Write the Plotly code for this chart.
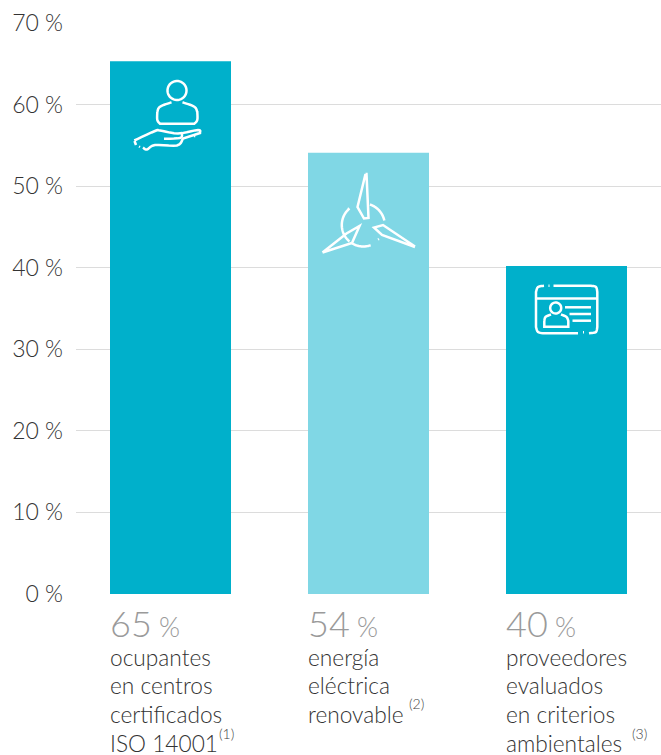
import numpy as np
import plotly.graph_objects as go

categories = ["ocupantes<br>en centros<br>certificados<br>ISO 14001",
              "energía<br>eléctrica<br>renovable",
              "proveedores<br>evaluados<br>en criterios<br>ambientales"]
values = [65.3, 54.1, 40.2]
big_labels = ["65", "54", "40"]
footnotes = ["(1)", "(2)", "(3)"]
colors = ["#00b0cb", "#80d7e5", "#00b0cb"]
tick_values = [0, 10, 20, 30, 40, 50, 60, 70]
tick_labels = ["0 %", "10 %", "20 %", "30 %", "40 %", "50 %", "60 %", "70 %"]

W, H = 661, 755
L, T, B = 76, 23, 161
FONT = "Lato"
BAR_W = 121 / 198
ICON_W = 2.5


def px(x, y):
    return (x - L) / (W - L), (H - B - y) / (H - B - T)


def line_path(points, close=False):
    s = ""
    for i, (x, y) in enumerate(points):
        a, b = px(x, y)
        s += ("M" if i == 0 else "L") + f"{a:.5f},{b:.5f} "
    return s + ("Z" if close else "")


def smooth(points, n=8):
    pts = np.array(points, dtype=float)
    out = []
    for i in range(len(pts) - 1):
        p0 = pts[max(i - 1, 0)]
        p1 = pts[i]
        p2 = pts[i + 1]
        p3 = pts[min(i + 2, len(pts) - 1)]
        for t in np.linspace(0, 1, n, endpoint=False):
            out.append(0.5 * ((2 * p1) + (p2 - p0) * t + (2 * p0 - 5 * p1 + 4 * p2 - p3) * t ** 2
                              + (3 * p1 - p0 - 3 * p2 + p3) * t ** 3))
    out.append(pts[-1])
    return [tuple(p) for p in out]


def arc(cx, cy, r, a0, a1, n=40):
    return [(cx + r * np.cos(np.radians(a)), cy - r * np.sin(np.radians(a)))
            for a in np.linspace(a0, a1, n)]


icon_paths = [
    # person on a hand
    line_path(arc(177, 90.5, 9.5, 0, 360)),
    line_path(smooth([(171.5, 102.3), (160, 106.7), (157.3, 112)])
              + smooth([(157.3, 112), (157.3, 120), (160, 123.7)], 4)
              + [(194.3, 123.7)]
              + smooth([(194.3, 123.7), (197.3, 120), (197.3, 112)], 4)
              + smooth([(197.3, 112), (194.3, 106.7), (182.5, 102.3)])),
    line_path(smooth([(134.3, 140.5), (155, 131), (160, 130.5), (178, 133.5), (198, 130), (200, 133)], 5)
              + [(183, 138.5)] + smooth([(183, 138.5), (177, 145.5), (155, 145), (147, 149.5), (143, 147.5)], 5)),
    line_path(smooth([(164, 138.7), (180, 138), (182, 134)], 5)),
    line_path([(134.5, 141), (136, 145)]),
    line_path([(139, 146.5), (140, 147)]),
    line_path([(194, 136.5), (195, 136)]),
    # wind turbine
    line_path([(365.5, 174), (366.5, 174), (368.5, 218), (364, 218.5), (357.5, 207), (365.5, 174)]),
    line_path([(415, 246.5), (383, 225), (374, 227.5), (382, 235), (415, 247)]),
    line_path([(322.5, 252.5), (352, 243), (359.5, 226), (346.5, 233.5), (322.5, 252.5)]),
    line_path(arc(363.3, 225, 21.5, 12, 72)),
    line_path(arc(363.3, 225, 21.5, 130, 230)),
    line_path(arc(363.3, 225, 21.5, 238, 290)),
    line_path([(348, 209), (349, 208.5)]),
    line_path([(378, 239.5), (379, 239)]),
    # id card
    line_path(smooth([(544, 285.8), (538, 287), (536, 292)], 4) + [(536, 327)]
              + smooth([(536, 327), (538, 332), (544, 333.3)], 4) + [(578, 333.3)]),
    line_path([(583, 332.3), (584, 332.3)]),
    line_path([(589, 333.3), (591, 333)] + smooth([(591, 333), (596, 332), (597.3, 327)], 4) + [(597.3, 292)]
              + smooth([(597.3, 292), (596, 287), (591, 285.8)], 4) + [(553.5, 285.8)]),
    line_path([(548.5, 285.8), (549.5, 285.8)]),
    line_path([(536, 298.5), (597.3, 298.5)]),
    line_path(arc(555.7, 308, 5.5, 0, 360)),
    line_path(smooth([(551, 314.5), (545.5, 317), (544.3, 321)], 4) + [(544.3, 326.7), (568.3, 326.7), (568.3, 321)]
              + smooth([(568.3, 321), (566.5, 317), (561, 314.5)], 4)),
    line_path([(565, 307.3), (591, 307.3)]),
    line_path([(569.5, 314), (591, 314)]),
    line_path([(572.5, 320.7), (591, 320.7)]),
]

fig = go.Figure(go.Bar(
    x=list(range(len(values))), y=values, width=BAR_W,
    marker=dict(color=colors, line=dict(width=0)), hoverinfo="skip",
))

shapes = [dict(type="path", xref="paper", yref="paper", path=p,
               line=dict(color="white", width=ICON_W), layer="above") for p in icon_paths]

annotations = []
footnote_pos = [(218, 733), (408, 703), (631, 733)]
for i, (cat, big, note) in enumerate(zip(categories, big_labels, footnotes)):
    left = i - BAR_W / 2
    body = "<br>".join(f"<span style='font-size:22.7px'>{line}</span>" for line in cat.split("<br>"))
    annotations.append(dict(
        x=left, xref="x", y=px(0, 599.5)[1], yref="paper", xanchor="left", yanchor="top", showarrow=False,
        align="left", borderpad=0, xshift=-1.5,
        text=(f"<span style='font-size:36px;color:#9a9a9a'>{big}</span>"
              f"<span style='font-size:27px;color:#9a9a9a'> %</span><br>{body}"),
        font=dict(family=FONT, weight=300, color="#333333", size=22.1)))
    annotations.append(dict(
        x=px(footnote_pos[i][0], 0)[0], xref="paper", y=px(0, footnote_pos[i][1])[1], yref="paper",
        xanchor="left", yanchor="middle", showarrow=False, borderpad=0, text=note,
        font=dict(family=FONT, weight=300, color="#444444", size=14)))

fig.update_layout(
    width=W, height=H, margin=dict(l=L, r=0, t=T, b=B, pad=0, autoexpand=False),
    paper_bgcolor="white", plot_bgcolor="white", showlegend=False,
    shapes=shapes, annotations=annotations,
    font=dict(family=FONT, color="#333333"),
)
fig.update_xaxes(range=[-94.5 / 198, 2 + 94.5 / 198], visible=False, fixedrange=True)
fig.update_yaxes(range=[0, 70], tickmode="array", tickvals=tick_values, ticktext=tick_labels,
                 showgrid=True, gridcolor="#dcdcdc", gridwidth=1, zeroline=False, showline=False,
                 ticks="", ticklabelstandoff=12,
                 tickfont=dict(family=FONT, weight=300, size=23, color="#333333"), fixedrange=True)

fig.write_html("out.html", config={"displayModeBar": False},
               post_script="document.body.style.margin='0';")
